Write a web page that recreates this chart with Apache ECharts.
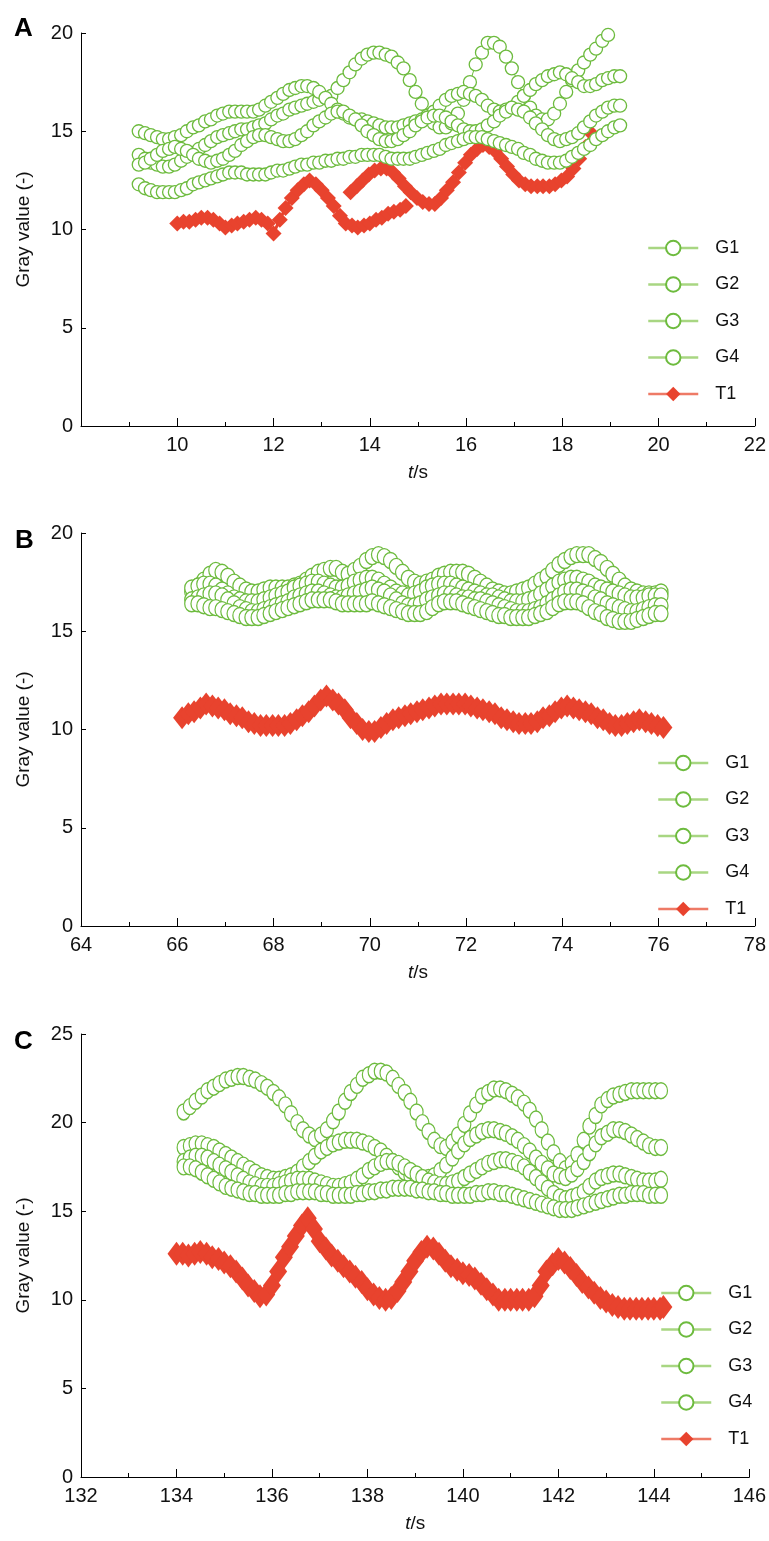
<!DOCTYPE html>
<html>
<head>
<meta charset="utf-8">
<script src="https://cdn.jsdelivr.net/npm/echarts@6/dist/echarts.min.js"></script>
<style>html,body{margin:0;padding:0;background:#fff}#c{width:769px;height:1541px}</style>
</head>
<body>
<div id="c"></div>
<script>
// ---------- Panel A ----------
const tA = [9.2,9.33,9.45,9.58,9.7,9.83,9.95,10.08,10.2,10.33,10.45,10.58,10.7,10.83,10.95,11.08,11.2,11.33,11.45,11.58,11.7,11.83,11.95,12.08,12.2,12.33,12.45,12.58,12.7,12.83,12.95,13.08,13.2,13.33,13.45,13.58,13.7,13.83,13.95,14.08,14.2,14.33,14.45,14.58,14.7,14.83,14.95,15.08,15.2,15.33,15.45,15.58,15.7,15.83,15.95,16.08,16.2,16.33,16.45,16.58,16.7,16.83,16.95,17.08,17.2,17.33,17.45,17.58,17.7,17.83,17.95,18.08,18.2,18.33,18.45,18.58,18.7,18.83,18.95,19.08,19.2];
const G1A = [13.8,13.6,13.4,13.3,13.2,13.2,13.3,13.5,13.7,13.9,14.1,14.3,14.5,14.7,14.8,14.9,15.0,15.1,15.1,15.2,15.3,15.4,15.6,15.8,15.9,16.1,16.2,16.3,16.4,16.5,16.6,16.7,16.8,17.2,17.6,18.0,18.4,18.7,18.9,19.0,19.0,18.9,18.8,18.5,18.2,17.6,17.0,16.4,15.8,15.4,15.2,15.2,15.4,15.9,16.6,17.5,18.4,19.0,19.5,19.5,19.3,18.8,18.2,17.5,16.8,16.2,15.8,15.6,15.6,15.9,16.4,17.0,17.6,18.1,18.5,18.9,19.2,19.6,19.9,20.2,20.4];
const G2A = [15.0,14.9,14.8,14.7,14.6,14.6,14.7,14.8,15.0,15.2,15.3,15.5,15.6,15.8,15.9,16.0,16.0,16.0,16.0,16.0,16.1,16.3,16.5,16.7,16.9,17.1,17.2,17.3,17.3,17.2,17.0,16.7,16.4,16.1,15.9,15.7,15.6,15.6,15.5,15.4,15.3,15.2,15.2,15.2,15.3,15.4,15.5,15.6,15.8,16.0,16.3,16.6,16.8,16.9,17.0,16.9,16.8,16.6,16.3,16.1,16.0,16.1,16.2,16.5,16.8,17.1,17.4,17.6,17.8,17.9,18.0,17.9,17.7,17.5,17.3,17.3,17.4,17.6,17.7,17.8,17.8];
const G3A = [13.3,13.4,13.6,13.8,14.0,14.1,14.2,14.1,14.0,13.8,13.6,13.5,13.4,13.5,13.6,13.8,14.0,14.3,14.5,14.7,14.8,14.8,14.7,14.6,14.5,14.5,14.6,14.8,15.0,15.3,15.5,15.7,15.9,16.0,16.0,15.8,15.6,15.3,15.0,14.8,14.6,14.5,14.5,14.6,14.8,15.0,15.3,15.5,15.7,15.8,15.8,15.7,15.5,15.3,15.1,15.0,15.0,15.1,15.3,15.5,15.8,16.0,16.2,16.1,16.0,15.7,15.4,15.1,14.8,14.6,14.5,14.6,14.7,14.9,15.2,15.5,15.8,16.0,16.2,16.3,16.3];
const G4A = [12.3,12.1,12.0,11.9,11.9,11.9,11.9,12.0,12.1,12.3,12.4,12.5,12.6,12.7,12.8,12.9,12.9,12.9,12.8,12.8,12.8,12.8,12.9,13.0,13.0,13.1,13.2,13.3,13.3,13.4,13.4,13.5,13.5,13.6,13.6,13.7,13.7,13.8,13.8,13.8,13.8,13.7,13.6,13.6,13.6,13.6,13.7,13.8,13.9,14.0,14.1,14.3,14.4,14.5,14.6,14.7,14.7,14.7,14.6,14.5,14.4,14.3,14.2,14.1,13.9,13.8,13.6,13.5,13.4,13.4,13.4,13.5,13.7,13.9,14.1,14.3,14.6,14.8,15.0,15.2,15.3];
const tT1A1 = [10.0,10.13,10.25,10.38,10.5,10.63,10.75,10.88,11.0,11.13,11.25,11.38,11.5,11.63,11.75,11.88,12.0,12.13,12.25,12.38,12.5,12.63,12.75,12.88,13.0,13.13,13.25,13.38,13.5,13.63,13.75,13.88,14.0,14.13,14.25,14.38,14.5,14.63,14.75];
const T1A1 = [10.3,10.4,10.4,10.5,10.6,10.6,10.5,10.3,10.1,10.2,10.3,10.4,10.5,10.6,10.5,10.3,9.8,10.5,11.1,11.6,12.0,12.3,12.5,12.3,12.0,11.6,11.2,10.7,10.3,10.2,10.1,10.2,10.3,10.5,10.6,10.8,10.9,11.0,11.2];
const tT1A2 = [13.6,13.73,13.85,13.98,14.1,14.23,14.35,14.48,14.6,14.73,14.85,14.98,15.1,15.23,15.35,15.48,15.6,15.73,15.85,15.98,16.1,16.23,16.35,16.48,16.6,16.73,16.85,16.98,17.1,17.23,17.35,17.48,17.6,17.73,17.85,17.98,18.1,18.23,18.35,18.48,18.6];
const T1A2 = [11.9,12.2,12.5,12.8,13.0,13.1,13.1,12.9,12.6,12.2,11.9,11.6,11.4,11.3,11.3,11.6,12.0,12.4,12.9,13.4,13.8,14.1,14.3,14.2,14.0,13.6,13.2,12.8,12.5,12.3,12.2,12.2,12.2,12.2,12.3,12.5,12.7,13.1,13.6,14.2,14.9];

// ---------- Panel B ----------
const tB = [66.3,66.43,66.55,66.68,66.8,66.93,67.05,67.18,67.3,67.43,67.55,67.68,67.8,67.93,68.05,68.18,68.3,68.43,68.55,68.68,68.8,68.93,69.05,69.18,69.3,69.43,69.55,69.68,69.8,69.93,70.05,70.18,70.3,70.43,70.55,70.68,70.8,70.93,71.05,71.18,71.3,71.43,71.55,71.68,71.8,71.93,72.05,72.18,72.3,72.43,72.55,72.68,72.8,72.93,73.05,73.18,73.3,73.43,73.55,73.68,73.8,73.93,74.05,74.18,74.3,74.43,74.55,74.68,74.8,74.93,75.05,75.18,75.3,75.43,75.55,75.68,75.8,75.93,76.05];
const G1B = [17.0,17.3,17.6,17.9,18.1,18.0,17.8,17.5,17.3,17.1,17.0,17.0,17.1,17.2,17.2,17.2,17.2,17.3,17.4,17.6,17.8,18.0,18.1,18.2,18.2,18.0,17.9,18.1,18.3,18.6,18.8,18.9,18.8,18.6,18.3,18.0,17.7,17.5,17.4,17.5,17.6,17.8,17.9,18.0,18.0,18.0,17.9,17.7,17.5,17.3,17.1,17.0,16.9,16.9,17.0,17.1,17.2,17.4,17.6,17.8,18.1,18.4,18.6,18.8,18.9,18.9,18.9,18.7,18.5,18.2,17.9,17.6,17.3,17.1,17.0,16.9,16.9,16.9,17.0];
const G2B = [17.2,17.3,17.4,17.4,17.3,17.1,16.9,16.7,16.6,16.5,16.5,16.5,16.6,16.7,16.8,16.9,17.0,17.2,17.3,17.4,17.5,17.5,17.4,17.3,17.2,17.2,17.3,17.5,17.6,17.7,17.7,17.6,17.4,17.2,17.0,16.9,16.8,16.9,17.0,17.2,17.3,17.4,17.4,17.4,17.3,17.2,17.1,17.0,16.9,16.8,16.8,16.7,16.6,16.5,16.5,16.5,16.6,16.7,16.9,17.1,17.3,17.5,17.6,17.7,17.7,17.6,17.5,17.3,17.2,17.1,17.0,16.9,16.8,16.7,16.7,16.7,16.8,16.8,16.8];
const G3B = [16.6,16.7,16.8,16.9,16.9,16.8,16.6,16.4,16.2,16.1,16.0,16.0,16.1,16.2,16.3,16.4,16.5,16.7,16.8,16.9,17.0,17.0,16.9,16.8,16.7,16.7,16.8,16.9,17.0,17.1,17.2,17.1,17.0,16.8,16.6,16.4,16.3,16.3,16.4,16.6,16.7,16.8,16.9,16.9,16.8,16.7,16.7,16.6,16.6,16.5,16.4,16.3,16.2,16.1,16.0,16.0,16.0,16.1,16.2,16.4,16.6,16.8,17.0,17.1,17.1,17.0,16.9,16.7,16.6,16.4,16.3,16.2,16.1,16.0,16.0,16.1,16.2,16.3,16.3];
const G4B = [16.4,16.4,16.3,16.2,16.2,16.1,16.0,15.9,15.8,15.7,15.7,15.7,15.8,15.9,16.0,16.1,16.2,16.3,16.4,16.5,16.6,16.6,16.6,16.6,16.5,16.4,16.4,16.4,16.4,16.4,16.5,16.4,16.3,16.2,16.1,16.0,15.9,15.9,15.9,16.0,16.2,16.4,16.5,16.5,16.5,16.4,16.3,16.2,16.1,16.0,15.9,15.8,15.8,15.7,15.7,15.7,15.7,15.8,15.9,16.0,16.2,16.4,16.5,16.5,16.5,16.4,16.2,16.0,15.9,15.7,15.6,15.5,15.5,15.5,15.6,15.7,15.8,15.9,15.9];
const tT1B = [66.1,66.23,66.35,66.48,66.6,66.73,66.85,66.98,67.1,67.23,67.35,67.48,67.6,67.73,67.85,67.98,68.1,68.23,68.35,68.48,68.6,68.73,68.85,68.98,69.1,69.23,69.35,69.48,69.6,69.73,69.85,69.98,70.1,70.23,70.35,70.48,70.6,70.73,70.85,70.98,71.1,71.23,71.35,71.48,71.6,71.73,71.85,71.98,72.1,72.23,72.35,72.48,72.6,72.73,72.85,72.98,73.1,73.23,73.35,73.48,73.6,73.73,73.85,73.98,74.1,74.23,74.35,74.48,74.6,74.73,74.85,74.98,75.1,75.23,75.35,75.48,75.6,75.73,75.85,75.98,76.1];
const T1B = [10.6,10.8,10.9,11.1,11.3,11.2,11.1,11.0,10.8,10.7,10.6,10.4,10.3,10.2,10.2,10.2,10.2,10.2,10.3,10.5,10.7,10.9,11.2,11.5,11.7,11.5,11.3,11.0,10.6,10.3,10.0,9.9,9.9,10.1,10.3,10.5,10.6,10.7,10.8,10.9,11.0,11.1,11.2,11.3,11.3,11.3,11.3,11.3,11.2,11.1,11.0,10.9,10.8,10.6,10.5,10.4,10.3,10.3,10.3,10.4,10.6,10.7,10.9,11.1,11.2,11.1,11.0,10.9,10.8,10.6,10.5,10.3,10.2,10.2,10.3,10.4,10.5,10.4,10.3,10.2,10.1];

// ---------- Panel C ----------
const tC = [134.15,134.28,134.4,134.53,134.65,134.78,134.9,135.03,135.15,135.28,135.4,135.53,135.65,135.78,135.9,136.03,136.15,136.28,136.4,136.53,136.65,136.78,136.9,137.03,137.15,137.28,137.4,137.53,137.65,137.78,137.9,138.03,138.15,138.28,138.4,138.53,138.65,138.78,138.9,139.03,139.15,139.28,139.4,139.53,139.65,139.78,139.9,140.03,140.15,140.28,140.4,140.53,140.65,140.78,140.9,141.03,141.15,141.28,141.4,141.53,141.65,141.78,141.9,142.03,142.15,142.28,142.4,142.53,142.65,142.78,142.9,143.03,143.15,143.28,143.4,143.53,143.65,143.78,143.9,144.03,144.15];
const G1C = [20.6,20.9,21.2,21.5,21.8,22.0,22.2,22.4,22.5,22.6,22.6,22.5,22.4,22.2,22.0,21.7,21.4,21.0,20.5,20.0,19.6,19.3,19.1,19.3,19.6,20.1,20.6,21.2,21.7,22.1,22.5,22.7,22.9,22.9,22.8,22.5,22.1,21.7,21.2,20.6,20.0,19.5,19.0,18.7,18.6,18.9,19.3,19.9,20.5,21.0,21.5,21.7,21.9,21.9,21.8,21.6,21.4,21.1,20.7,20.2,19.6,18.9,18.3,17.8,17.4,17.7,18.2,19.0,19.8,20.4,21.0,21.3,21.5,21.6,21.7,21.8,21.8,21.8,21.8,21.8,21.8];
const G2C = [18.6,18.7,18.8,18.8,18.7,18.6,18.4,18.2,18.0,17.8,17.6,17.4,17.2,17.0,16.9,16.8,16.8,16.9,17.0,17.2,17.5,17.8,18.1,18.4,18.6,18.8,18.9,19.0,19.0,19.0,18.9,18.8,18.6,18.4,18.1,17.8,17.5,17.2,17.0,16.9,16.8,16.9,17.0,17.3,17.6,18.0,18.4,18.8,19.1,19.3,19.5,19.6,19.6,19.5,19.4,19.2,19.0,18.7,18.4,18.0,17.7,17.4,17.1,17.0,16.9,17.1,17.4,17.8,18.3,18.8,19.2,19.4,19.6,19.6,19.5,19.3,19.1,18.9,18.7,18.6,18.6];
const G3C = [17.8,18.0,18.1,18.1,18.0,17.8,17.6,17.4,17.2,17.0,16.8,16.6,16.5,16.4,16.4,16.4,16.5,16.6,16.7,16.8,16.8,16.8,16.7,16.6,16.5,16.4,16.4,16.5,16.6,16.8,17.0,17.3,17.5,17.7,17.8,17.8,17.7,17.5,17.3,17.1,16.9,16.7,16.6,16.5,16.5,16.6,16.7,16.9,17.1,17.3,17.5,17.7,17.8,17.9,17.9,17.8,17.7,17.5,17.2,16.9,16.6,16.3,16.0,15.8,15.7,15.8,15.9,16.1,16.4,16.7,16.9,17.0,17.1,17.1,17.0,16.9,16.8,16.7,16.7,16.7,16.8];
const G4C = [17.5,17.5,17.4,17.2,17.0,16.8,16.6,16.4,16.3,16.2,16.1,16.0,16.0,15.9,15.9,15.9,15.9,16.0,16.0,16.1,16.1,16.1,16.1,16.0,16.0,15.9,15.9,15.9,15.9,16.0,16.0,16.1,16.1,16.2,16.2,16.3,16.3,16.3,16.3,16.2,16.2,16.1,16.1,16.0,16.0,15.9,15.9,15.9,15.9,16.0,16.0,16.1,16.1,16.0,16.0,15.9,15.8,15.7,15.6,15.5,15.4,15.3,15.2,15.1,15.1,15.1,15.2,15.3,15.4,15.5,15.6,15.7,15.8,15.9,15.9,16.0,16.0,16.0,15.9,15.9,15.9];
const tT1C = [134.0,134.13,134.25,134.38,134.5,134.63,134.75,134.88,135.0,135.13,135.25,135.38,135.5,135.63,135.75,135.88,136.0,136.13,136.25,136.38,136.5,136.63,136.75,136.88,137.0,137.13,137.25,137.38,137.5,137.63,137.75,137.88,138.0,138.13,138.25,138.38,138.5,138.63,138.75,138.88,139.0,139.13,139.25,139.38,139.5,139.63,139.75,139.88,140.0,140.13,140.25,140.38,140.5,140.63,140.75,140.88,141.0,141.13,141.25,141.38,141.5,141.63,141.75,141.88,142.0,142.13,142.25,142.38,142.5,142.63,142.75,142.88,143.0,143.13,143.25,143.38,143.5,143.63,143.75,143.88,144.0,144.13,144.2];
const T1C = [12.6,12.6,12.5,12.6,12.7,12.6,12.4,12.3,12.1,11.9,11.6,11.2,10.8,10.5,10.2,10.3,10.8,11.6,12.4,13.0,13.6,14.2,14.6,14.0,13.3,12.9,12.5,12.2,11.9,11.6,11.3,11.0,10.6,10.3,10.1,10.0,10.1,10.5,11.0,11.6,12.2,12.7,13.0,12.9,12.6,12.2,11.9,11.7,11.5,11.4,11.2,10.9,10.6,10.3,10.0,10.0,10.0,10.0,10.0,10.0,10.2,10.8,11.6,12.0,12.3,12.1,11.8,11.4,11.0,10.7,10.4,10.1,9.9,9.7,9.6,9.5,9.5,9.5,9.5,9.5,9.5,9.5,9.6];

// axes
const xRanges = [[8,22],[64,78],[132,146]];
const yMax = [20,20,25];
const legendNames = ['G1','G2','G3','G4','T1'];

const GREEN = '#6DBB3E';
const RED = '#E8432E';
const FONT = 'Liberation Sans, Arial, sans-serif';

const chart = echarts.init(document.getElementById('c'), null, {renderer:'canvas'});

const grids = [
  {left:81, top:33, width:679, height:393},
  {left:81, top:533, width:679, height:393},
  {left:81, top:1034, width:679, height:443}
];
const gSize = [13, [14,16], [13,16]];
const rSize = [16, [18,23], [18,24]];

function pairs(t, v){ const n = Math.min(t.length, v.length); const out = []; for (let i=0;i<n;i++) out.push([t[i], v[i]]); return out; }
function gSeries(name, idx, t, v){
  return {type:'line', name, xAxisIndex:idx, yAxisIndex:idx, data:pairs(t,v),
    symbol:'circle', symbolSize:gSize[idx], showSymbol:true, showAllSymbol:true,
    itemStyle:{color:'#fff', borderColor:GREEN, borderWidth:1.3},
    lineStyle:{color:GREEN, width:1}, z:3, silent:true, animation:false,
    emphasis:{disabled:true}};
}
function rSeries(idx, t, v){
  return {type:'line', name:'T1', xAxisIndex:idx, yAxisIndex:idx, data:pairs(t,v),
    symbol:'diamond', symbolSize:rSize[idx], showSymbol:true, showAllSymbol:true,
    itemStyle:{color:RED}, lineStyle:{color:RED, width:3}, z:2, silent:true, animation:false,
    emphasis:{disabled:true}};
}

const series = [
  rSeries(0,tT1A1,T1A1), rSeries(0,tT1A2,T1A2),
  gSeries('G1',0,tA,G1A), gSeries('G2',0,tA,G2A), gSeries('G3',0,tA,G3A), gSeries('G4',0,tA,G4A),
  rSeries(1,tT1B,T1B),
  gSeries('G1',1,tB,G1B), gSeries('G2',1,tB,G2B), gSeries('G3',1,tB,G3B), gSeries('G4',1,tB,G4B),
  rSeries(2,tT1C,T1C),
  gSeries('G1',2,tC,G1C), gSeries('G2',2,tC,G2C), gSeries('G3',2,tC,G3C), gSeries('G4',2,tC,G4C)
];

const xAxes = xRanges.map((r,i)=>({
  gridIndex:i, type:'value', min:r[0], max:r[1], interval:2,
  axisLine:{show:true, onZero:false, lineStyle:{color:'#000', width:1}},
  axisTick:{show:true, inside:true, length:8, lineStyle:{color:'#000'}},
  minorTick:{show:true, splitNumber:2, length:4, lineStyle:{color:'#000'}},
  splitLine:{show:false}, minorSplitLine:{show:false},
  axisLabel:{fontSize:20, color:'#111', fontFamily:FONT, margin:9, showMinLabel: i!==0},
  name:'{i|t}/s', nameLocation:'middle', nameGap:37,
  nameTextStyle:{fontSize:19, color:'#111', fontFamily:FONT,
    rich:{i:{fontStyle:'italic', fontSize:19, color:'#111', fontFamily:FONT}}}
}));
const yAxes = yMax.map((m,i)=>({
  gridIndex:i, type:'value', min:0, max:m, interval:5,
  axisLine:{show:true, lineStyle:{color:'#000', width:1}},
  axisTick:{show:true, inside:true, length:5, lineStyle:{color:'#000'}},
  splitLine:{show:false},
  axisLabel:{fontSize:20, color:'#111', fontFamily:FONT, margin:8},
  name:'Gray value (-)', nameLocation:'middle', nameGap:48, nameRotate:90,
  nameTextStyle:{fontSize:19, color:'#111', fontFamily:FONT}
}));

const legendPos = [[642,234],[652,749],[655,1279]];
const legends = legendPos.map(p=>({
  orient:'vertical', left:p[0], top:p[1], itemWidth:50, itemHeight:18, itemGap:18.5,
  selectedMode:false,
  formatter:'{a|{name}}',
  textStyle:{fontSize:18, color:'#111', fontFamily:FONT,
    rich:{a:{fontSize:18, color:'#111', fontFamily:FONT, padding:[0,0,0,12], lineHeight:18}}},
  data: legendNames.map(n=>({name:n,
    lineStyle: n==='T1' ? {color:'#EE7A66', width:2.5, opacity:1} : {color:'#A8D682', width:2.5, opacity:1}}))
}));

const letters = [['A',14,16],['B',15,528],['C',14,1029]];

chart.setOption({
  animation:false,
  backgroundColor:'#fff',
  grid:grids,
  xAxis:xAxes,
  yAxis:yAxes,
  legend:legends,
  graphic: letters.map(l=>({type:'text', left:l[1], top:l[2],
    style:{text:l[0], font:'bold 26px '+FONT, fill:'#000'}})),
  series:series
});
</script>
</body>
</html>
